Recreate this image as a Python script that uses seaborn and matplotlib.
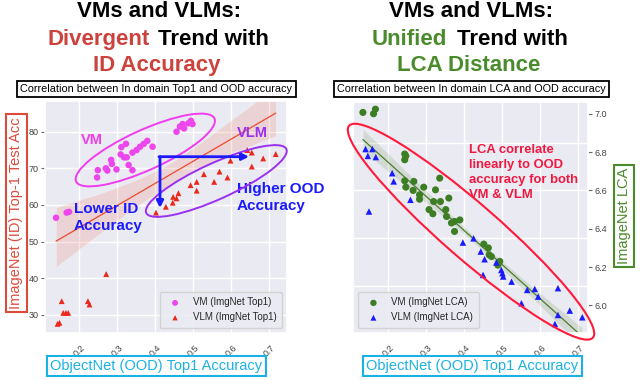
import matplotlib
matplotlib.use("Agg")
import matplotlib.pyplot as plt
import seaborn as sns
import numpy as np
import pandas as pd
from matplotlib.patches import Ellipse, FancyArrowPatch
from matplotlib.transforms import IdentityTransform

# ---------------- data ----------------
vm_top1_ood = [0.139, 0.167, 0.173, 0.247, 0.249, 0.270, 0.274, 0.286, 0.284, 0.298,
               0.309, 0.311, 0.323, 0.318, 0.330, 0.340, 0.325, 0.340, 0.351, 0.360,
               0.370, 0.379, 0.393, 0.456, 0.465, 0.472, 0.487, 0.494, 0.498, 0.476]
vm_top1_id = [56.5, 57.9, 58.1, 67.5, 69.5, 70.0, 69.4, 71.2, 72.3, 69.7,
              73.8, 75.8, 76.7, 73.0, 70.9, 69.5, 73.0, 74.3, 75.0, 75.9,
              76.7, 77.5, 75.9, 80.0, 81.4, 82.1, 82.3, 83.0, 82.1, 80.9]
vlm_top1_ood = [0.402, 0.428, 0.446, 0.447, 0.456, 0.461, 0.493, 0.509, 0.509, 0.528,
                0.555, 0.569, 0.590, 0.598, 0.642, 0.654, 0.654, 0.684, 0.717,
                0.154, 0.158, 0.165, 0.171, 0.148, 0.143, 0.223, 0.227, 0.271]
vlm_top1_id = [57.9, 59.5, 60.6, 62.2, 61.8, 63.2, 65.4, 63.9, 66.3, 68.4,
               66.3, 69.1, 67.5, 72.1, 75.0, 74.3, 70.5, 72.7, 73.9,
               33.7, 30.5, 30.5, 30.5, 27.8, 27.5, 33.7, 32.8, 41.1]

vm_lca_ood = [0.134, 0.162, 0.167, 0.244, 0.244, 0.247, 0.244, 0.247, 0.268, 0.266,
              0.283, 0.283, 0.294, 0.308, 0.318, 0.320, 0.325, 0.336, 0.338, 0.352,
              0.354, 0.360, 0.367, 0.375, 0.375, 0.389, 0.452, 0.464, 0.466, 0.472,
              0.494, 0.489]
vm_lca = [7.007, 7.000, 7.024, 6.790, 6.760, 6.780, 6.650, 6.617, 6.647, 6.600,
          6.577, 6.554, 6.617, 6.500, 6.478, 6.542, 6.603, 6.664, 6.542, 6.500,
          6.464, 6.560, 6.430, 6.386, 6.438, 6.446, 6.320, 6.300, 6.264, 6.255,
          6.230, 6.210]
vlm_lca_ood = [0.141, 0.159, 0.147, 0.168, 0.150, 0.211, 0.215, 0.259, 0.397, 0.425,
               0.444, 0.454, 0.450, 0.485, 0.498, 0.501, 0.503, 0.525, 0.551, 0.566,
               0.586, 0.595, 0.647, 0.647, 0.639, 0.678, 0.711]
vlm_lca = [6.816, 6.816, 6.780, 6.774, 6.490, 6.690, 6.647, 6.551, 6.328, 6.350,
           6.281, 6.241, 6.159, 6.224, 6.185, 6.168, 6.151, 6.124, 6.011, 6.081,
           6.086, 6.046, 6.090, 5.950, 5.903, 5.973, 5.938]

x_ticks = [0.2, 0.3, 0.4, 0.5, 0.6, 0.7]
top1_ticks = [30, 40, 50, 60, 70, 80]
lca_ticks = [6.0, 6.2, 6.4, 6.6, 6.8, 7.0]

# ---------------- style ----------------
sns.set_theme(style="darkgrid")
plt.rcParams["font.family"] = ["Liberation Sans", "DejaVu Sans"]

W, H = 640, 380
fig = plt.figure(figsize=(6.4, 3.8), dpi=100)
fig.patch.set_facecolor("white")


def fx(x):
    return x / W


def fy(y):
    return 1 - y / H


C_VM = "#ec46ec"
C_VLM = "#e8291c"
C_GREEN = "#3d7d24"
C_BLUE = "#1a1aff"
C_TRED = "#cc423c"
C_TGREEN = "#4a8b2c"

axL = fig.add_axes([fx(45), fy(333), (287 - 45) / W, (333 - 101) / H])
axR = fig.add_axes([fx(353), fy(333), (588 - 353) / W, (333 - 101.5) / H])

# ---------------- left panel ----------------
sns.scatterplot(x=vm_top1_ood, y=vm_top1_id, ax=axL, color=C_VM, marker="o", s=22,
                edgecolor="none", label="VM (ImgNet Top1)", zorder=3)
sns.scatterplot(x=vlm_top1_ood, y=vlm_top1_id, ax=axL, color=C_VLM, marker="^", s=18,
                edgecolor="none", label="VLM (ImgNet Top1)", zorder=3)
sns.regplot(x=np.array(vm_top1_ood + vlm_top1_ood), y=np.array(vm_top1_id + vlm_top1_id),
            ax=axL, scatter=False, color="#ee4a30", line_kws=dict(lw=0.9), seed=0)
axL.set_xlim(0.11, 0.7466)
axL.set_ylim(25.0, 88.4)
axL.set_xticks(x_ticks)
axL.set_yticks(top1_ticks)
axL.set_xlabel("")
axL.set_ylabel("")
axL.tick_params(axis="y", left=True, length=3, width=0.8, color="#666", labelsize=6.5,
                labelcolor="#444", pad=1.5)
axL.tick_params(axis="x", labelsize=6.5, labelcolor="#444", pad=1)
for lb in axL.get_xticklabels():
    lb.set_rotation(45)
    lb.set_ha("center")
axL.legend(loc="lower right", fontsize=7, frameon=True, handletextpad=0.8,
           borderpad=0.6, markerscale=0.9)

# ---------------- right panel ----------------
sns.scatterplot(x=vm_lca_ood, y=vm_lca, ax=axR, color=C_GREEN, marker="o", s=26,
                edgecolor="none", label="VM (ImgNet LCA)", zorder=3)
sns.scatterplot(x=vlm_lca_ood, y=vlm_lca, ax=axR, color=C_BLUE, marker="^", s=22,
                edgecolor="none", label="VLM (ImgNet LCA)", zorder=3)
sns.regplot(x=np.array(vm_lca_ood + vlm_lca_ood), y=np.array(vm_lca + vlm_lca),
            ax=axR, scatter=False, color="#4a7d2a", line_kws=dict(lw=0.9), seed=0)
axR.set_xlim(0.108, 0.726)
axR.set_ylim(5.856, 7.064)
axR.set_xticks(x_ticks)
axR.set_yticks(lca_ticks)
axR.yaxis.tick_right()
axR.set_xlabel("")
axR.set_ylabel("")
axR.tick_params(axis="y", right=True, left=False, length=3, width=0.8, color="#666",
                labelsize=6.5, labelcolor="#444", pad=1.5)
axR.tick_params(axis="x", labelsize=6.5, labelcolor="#444", pad=1)
# horizontal grid of the reference sits off the tick positions
axR.grid(axis="y", which="major", visible=False)
axR.set_yticks([6.102, 6.352, 6.603, 6.849], minor=True)
axR.tick_params(axis="y", which="minor", length=0)
axR.grid(axis="y", which="minor", color="white", lw=1.0)
for lb in axR.get_xticklabels():
    lb.set_rotation(45)
    lb.set_ha("center")
axR.legend(loc="lower left", fontsize=7, frameon=True, handletextpad=0.8,
           borderpad=0.6, markerscale=0.9)

# ---------------- titles ----------------
TF = 16
fig.text(fx(159), fy(17), "VMs and VLMs:", ha="center", va="baseline",
         fontsize=TF, fontweight="bold", color="black")
fig.text(fx(150), fy(45), "Divergent", ha="right", va="baseline",
         fontsize=TF, fontweight="bold", color=C_TRED)
fig.text(fx(158), fy(45), "Trend with", ha="left", va="baseline",
         fontsize=TF, fontweight="bold", color="black")
fig.text(fx(157), fy(71), "ID Accuracy", ha="center", va="baseline",
         fontsize=TF, fontweight="bold", color=C_TRED)

fig.text(fx(471.5), fy(17), "VMs and VLMs:", ha="center", va="baseline",
         fontsize=TF, fontweight="bold", color="black")
fig.text(fx(446.7), fy(45), "Unified", ha="right", va="baseline",
         fontsize=TF, fontweight="bold", color=C_TGREEN)
fig.text(fx(456.7), fy(45), "Trend with", ha="left", va="baseline",
         fontsize=TF, fontweight="bold", color="black")
fig.text(fx(469), fy(71), "LCA Distance", ha="center", va="baseline",
         fontsize=TF, fontweight="bold", color=C_TGREEN)

# ---------------- boxed subtitles and axis labels ----------------
box_k = dict(facecolor="white", edgecolor="black", lw=1.3, boxstyle="square,pad=0.3")
fig.text(fx(156.5), fy(89), "Correlation between In domain Top1 and OOD accuracy",
         ha="center", va="center", fontsize=7.8, color="black", bbox=box_k)
fig.text(fx(471.5), fy(89), "Correlation between In domain LCA and OOD accuracy",
         ha="center", va="center", fontsize=7.8, color="black", bbox=box_k)

C_YL = "#dc4a3c"
C_XL = "#1ab2e6"


def lbox(c):
    return dict(facecolor="white", edgecolor=c, lw=1.5, boxstyle="square,pad=0.22")


fig.text(fx(16.5), fy(213), "ImageNet (ID) Top-1 Test Acc", rotation=90,
         ha="center", va="center", fontsize=10.5, color=C_YL, bbox=lbox(C_YL))
fig.text(fx(156.5), fy(366), "ObjectNet (OOD) Top1 Accuracy",
         ha="center", va="center", fontsize=10.5, color=C_XL, bbox=lbox(C_XL))
fig.text(fx(472.5), fy(366), "ObjectNet (OOD) Top1 Accuracy",
         ha="center", va="center", fontsize=10.5, color=C_XL, bbox=lbox(C_XL))
fig.text(fx(624), fy(216), "ImageNet LCA", rotation=90,
         ha="center", va="center", fontsize=10.5, color=C_TGREEN, bbox=lbox(C_TGREEN))

# ---------------- annotations ----------------
idt = IdentityTransform()
fig.add_artist(Ellipse((145.3, H - 150), 152, 40, angle=24.5, transform=idt,
                       fill=False, ec="#f03cf0", lw=1.4, zorder=5))
fig.add_artist(Ellipse((216.3, H - 181), 154, 36, angle=24.5, transform=idt,
                       fill=False, ec="#9b30f0", lw=1.4, zorder=5))
fig.add_artist(Ellipse((471, H - 231.7), 323, 55, angle=-41, transform=idt,
                       fill=False, ec="#ff1a3c", lw=1.5, zorder=5))

fig.add_artist(FancyArrowPatch((160, H - 156.7), (160, H - 208), transform=idt,
                               arrowstyle="-|>", mutation_scale=10, lw=2.0,
                               color=C_BLUE, zorder=6, shrinkA=0, shrinkB=0))
fig.add_artist(FancyArrowPatch((159, H - 156.7), (249, H - 156.7), transform=idt,
                               arrowstyle="-|>", mutation_scale=10, lw=2.0,
                               color=C_BLUE, zorder=6, shrinkA=0, shrinkB=0))

fig.text(fx(91.7), fy(140), "VM", ha="center", va="center", fontsize=10.5,
         fontweight="bold", color="#ee3ee8")
fig.text(fx(252.5), fy(133), "VLM", ha="center", va="center", fontsize=10.5,
         fontweight="bold", color="#9a2fef")
fig.text(fx(74), fy(212.7), "Lower ID", ha="left", va="baseline", fontsize=11,
         fontweight="bold", color=C_BLUE)
fig.text(fx(74), fy(230), "Accuracy", ha="left", va="baseline", fontsize=11,
         fontweight="bold", color=C_BLUE)
fig.text(fx(236.7), fy(193.3), "Higher OOD", ha="left", va="baseline", fontsize=11,
         fontweight="bold", color=C_BLUE)
fig.text(fx(236.7), fy(210), "Accuracy", ha="left", va="baseline", fontsize=11,
         fontweight="bold", color=C_BLUE)

for i, line in enumerate(["LCA correlate", "linearly to OOD", "accuracy for both", "VM & VLM"]):
    fig.text(fx(469.3), fy(153.3 + 15 * i), line, ha="left", va="baseline",
             fontsize=9.4, fontweight="bold", color="#f01840")

fig.savefig("out.png", dpi=100)
